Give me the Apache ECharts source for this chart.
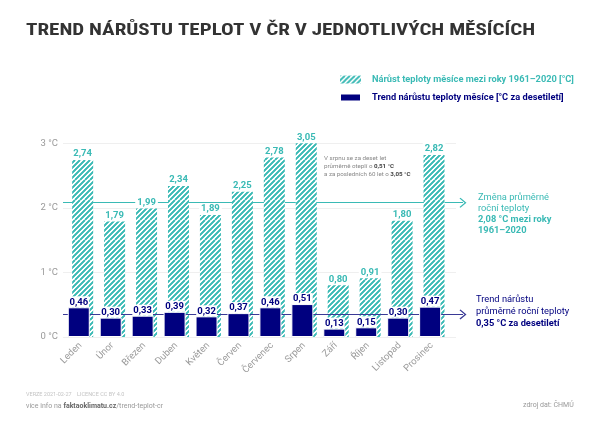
<!DOCTYPE html>
<html><head><meta charset="utf-8">
<style>html,body{margin:0;padding:0;background:#fff}#c{width:600px;height:424px}</style>
<script src="https://cdn.jsdelivr.net/npm/echarts@6/dist/echarts.min.js"></script></head>
<body><div id="c"></div>
<script>
const categories=['Leden','Únor','Březen','Duben','Květen','Červen','Červenec','Srpen','Září','Říjen','Listopad','Prosinec'];
const growth=[2.74,1.79,1.99,2.34,1.89,2.25,2.78,3.05,0.80,0.91,1.80,2.82];
const trend=[0.46,0.30,0.33,0.39,0.32,0.37,0.46,0.51,0.13,0.15,0.30,0.47];
const annualGrowth=2.08, annualTrend=0.35;
const yTicks=[0,1,2,3];
const growthName='Nárůst teploty měsíce mezi roky 1961–2020 [°C]';
const trendName='Trend nárůstu teploty měsíce [°C za desetiletí]';
const TEAL='#3abab5',NAVY='#00007f',GRAY='#9a9a9a',F='Roboto';
const CHEVRON='path://M0,0 L5,5 L4.2,5.8 L0,1.6 L-4.2,5.8 L-5,5 Z';
function hatch(){
  const n=20,k=4,c=document.createElement('canvas');
  c.width=c.height=n*k;
  const x=c.getContext('2d');
  x.fillStyle='#fff';x.fillRect(0,0,n*k,n*k);
  x.strokeStyle=TEAL;x.lineWidth=1.75*k;
  for(let i=-4;i<=8;i++){x.beginPath();x.moveTo(i*5*k,n*k);x.lineTo(i*5*k+n*k,0);x.stroke();}
  const o=document.createElement('canvas');o.width=o.height=n;
  o.getContext('2d').drawImage(c,0,0,n,n);
  return {image:o,repeat:'repeat'};
}
const comma=v=>v.toFixed(2).replace('.',',');
const chart=echarts.init(document.getElementById('c'),null,{renderer:'canvas'});
chart.setOption({
  animation:false,backgroundColor:'#fff',
  textStyle:{fontFamily:F},
  legend:{left:334,top:70,orient:'vertical',itemWidth:21,itemHeight:8,itemGap:8.5,selectedMode:false,
    data:[{name:growthName,icon:'rect',textStyle:{color:TEAL}},{name:trendName,icon:'rect',textStyle:{color:NAVY}}],
    textStyle:{fontFamily:F,fontSize:9.25,fontWeight:700,padding:[0,0,0,6]}},
  grid:[{left:63,width:393,top:143.3,height:193.7},{left:64.5,width:383.3,top:143.3,height:193.7}],
  xAxis:[
    {type:'value',gridIndex:0,min:0,max:1,show:false},
    {type:'category',gridIndex:1,data:categories,axisLine:{show:false},axisTick:{show:false},
     axisLabel:{rotate:45,interval:0,color:GRAY,fontSize:9.5,margin:7,fontFamily:F}}],
  yAxis:[
    {type:'value',gridIndex:0,min:0,max:3,interval:1,axisLine:{show:false},axisTick:{show:false},
     splitLine:{lineStyle:{color:'#efefef',width:1}},
     axisLabel:{color:GRAY,fontSize:9.5,margin:5,fontFamily:F,formatter:v=>yTicks.includes(v)?v+' °C':''}},
    {type:'value',gridIndex:1,min:0,max:3,interval:1,show:false}],
  series:[
    {name:'annualGrowth',type:'line',xAxisIndex:0,yAxisIndex:0,data:[],z:1,silent:true,
     markLine:{z:1,silent:true,symbol:['none',CHEVRON],symbolSize:[10,7],label:{show:false},animation:false,
       lineStyle:{color:TEAL,width:1,type:'solid'},
       data:[[{x:63,yAxis:annualGrowth},{x:463,yAxis:annualGrowth}]]}},
    {name:trendName,type:'bar',xAxisIndex:1,yAxisIndex:1,data:trend,barWidth:22,barGap:'-80%',z:5,
     itemStyle:{color:NAVY,borderColor:'#fff',borderWidth:1},
     label:{show:true,position:'top',distance:0,formatter:p=>comma(p.value),color:NAVY,fontWeight:700,fontSize:9.5,
       fontFamily:F,backgroundColor:'#fff',padding:[1,1,0,1]}},
    {name:growthName,type:'bar',xAxisIndex:1,yAxisIndex:1,data:growth,barWidth:21,z:2,
     itemStyle:{color:hatch()},
     label:{show:true,position:'top',distance:1,formatter:p=>comma(p.value),color:TEAL,fontWeight:700,fontSize:9.5,
       fontFamily:F,backgroundColor:'#fff',padding:[1,2,0,2]}},
    {name:'annualTrend',type:'line',xAxisIndex:0,yAxisIndex:0,data:[],z:3,silent:true,
     markLine:{z:3,silent:true,symbol:['none',CHEVRON],symbolSize:[10,7],label:{show:false},animation:false,
       lineStyle:{color:'#3a3a96',width:1,type:'solid'},
       data:[[{x:63,yAxis:annualTrend},{x:463,yAxis:annualTrend}]]}}
  ],
  graphic:[
    {type:'text',left:26,top:22,scaleX:1.238,style:{text:'TREND NÁRŮSTU TEPLOT V ČR V JEDNOTLIVÝCH MĚSÍCÍCH',fill:'#333',font:'700 17px "Roboto Condensed",Roboto'}},
    {type:'text',left:324,top:154,style:{text:'V srpnu se za deset let\n{n|průměrně oteplí o }{b|0,51 °C}\n{n|a za posledních 60 let o }{b|3,05 °C}',fill:'#888',font:'6.2px Roboto',lineHeight:8,rich:{n:{fill:'#888',font:'6.2px Roboto'},b:{fill:'#444',font:'700 6.2px Roboto'}}}},
    {type:'text',left:478,top:192,style:{text:'Změna průměrné\nroční teploty\n{b|2,08 °C mezi roky}\n{b|1961–2020}',fill:TEAL,font:'9.3px Roboto',lineHeight:11,rich:{b:{fill:TEAL,font:'700 9.3px Roboto'}}}},
    {type:'text',left:476,top:294,style:{text:'Trend nárůstu\nprůměrné roční teploty\n{b|0,35 °C za desetiletí}',fill:NAVY,font:'9.3px Roboto',lineHeight:12,rich:{b:{fill:NAVY,font:'700 9.3px Roboto'}}}},
    {type:'text',left:26,top:392,style:{text:'VERZE 2021-02-27    LICENCE CC BY 4.0',fill:'#c4c4c4',font:'5.5px Roboto'}},
    {type:'text',left:26,top:403,style:{text:'více info na {b|faktaoklimatu.cz}/trend-teplot-cr',fill:'#999',font:'7px Roboto',rich:{b:{fill:'#666',font:'700 7px Roboto'}}}},
    {type:'text',left:523,top:402,style:{text:'zdroj dat: ČHMÚ',fill:'#999',font:'7px Roboto'}}
  ]
});
</script></body></html>
